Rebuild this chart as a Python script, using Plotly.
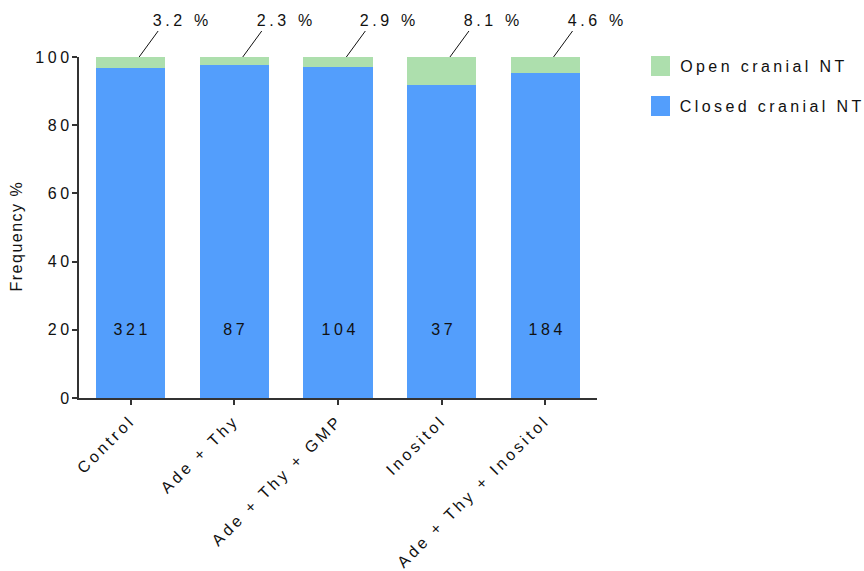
import plotly.graph_objects as go

categories = ["Control", "Ade + Thy", "Ade + Thy + GMP", "Inositol", "Ade + Thy + Inositol"]
open_pct = [3.2, 2.3, 2.9, 8.1, 4.6]
closed_pct = [100 - v for v in open_pct]
open_labels = ["3.2 %", "2.3 %", "2.9 %", "8.1 %", "4.6 %"]
n_embryos = ["321", "87", "104", "37", "184"]
y_ticks = [0, 20, 40, 60, 80, 100]

BLUE = "#539EFC"
GREEN = "#ADDFAD"
TXT = "#111111"
FONT = "Liberation Sans, Arial, sans-serif"
FS = 16
LS = 3.6        # general letter spacing (px), applied after render
LS_LEG = 3.4    # legend letter spacing
LS_X = 3.3      # x tick label letter spacing

W, H = 864, 571
L, R, T, B = 79, 267, 57, 173
PW, PH = W - L - R, H - T - B

def px_x(px):
    return (px - L) / PW

def px_y(py):
    return (H - B - py) / PH

def left_shift(txt, ls):
    return (len(txt) - 1) * ls / 2

fig = go.Figure()
fig.add_trace(go.Bar(x=categories, y=closed_pct, marker=dict(color=BLUE, line=dict(width=0)),
                     name="Closed cranial NT", showlegend=False))
fig.add_trace(go.Bar(x=categories, y=open_pct, marker=dict(color=GREEN, line=dict(width=0)),
                     name="Open cranial NT", showlegend=False))

annotations = []
for i, (lab, n) in enumerate(zip(open_labels, n_embryos)):
    annotations.append(dict(x=i + 0.04, y=100, xref="x", yref="y", text=lab, showarrow=True,
                            arrowhead=0, arrowwidth=1, arrowcolor=TXT, ax=19, ay=-26,
                            xanchor="left", yanchor="bottom", xshift=left_shift(lab, LS) - 3,
                            font=dict(family=FONT, size=FS, color=TXT)))
    annotations.append(dict(x=i, y=20, xref="x", yref="y", text=n, showarrow=False,
                            xanchor="center", yanchor="middle", font=dict(family=FONT, size=FS, color=TXT)))

# y axis title
annotations.append(dict(x=px_x(16), y=px_y(237), xref="paper", yref="paper", text="Frequency %",
                        textangle=-90, showarrow=False, xanchor="center", yanchor="middle",
                        font=dict(family=FONT, size=FS, color=TXT)))

# custom legend
shapes = []
legend_items = [("Open cranial NT", GREEN, 56), ("Closed cranial NT", BLUE, 96)]
legend_names = [it[0] for it in legend_items]
for name, col, top in legend_items:
    shapes.append(dict(type="rect", xref="paper", yref="paper", x0=px_x(651), x1=px_x(670),
                       y0=px_y(top + 20), y1=px_y(top), fillcolor=col, line=dict(width=0)))
    annotations.append(dict(x=px_x(678), y=px_y(top + 10), xref="paper", yref="paper", text=name,
                            showarrow=False, xanchor="left", yanchor="middle",
                            xshift=left_shift(name, LS_LEG),
                            font=dict(family=FONT, size=FS, color=TXT)))

fig.update_layout(
    width=W, height=H, barmode="stack", bargap=0.333,
    margin=dict(l=L, r=R, t=T, b=B, pad=0),
    plot_bgcolor="white", paper_bgcolor="white",
    font=dict(family=FONT, size=FS, color=TXT),
    annotations=annotations, shapes=shapes, showlegend=False,
)
fig.update_xaxes(showline=True, linecolor="#333333", linewidth=1.5, ticks="outside", ticklen=5,
                 tickcolor="#333333", tickwidth=1.5, tickangle=-45, showgrid=False,
                 tickfont=dict(family=FONT, size=FS, color=TXT), range=[-0.5, 4.5])
fig.update_yaxes(range=[0, 100], tickvals=y_ticks, showline=True, linecolor="#333333", linewidth=1.5,
                 ticks="outside", ticklen=5, tickcolor="#333333", tickwidth=1.5, showgrid=False,
                 zeroline=False, tickfont=dict(family=FONT, size=FS, color=TXT))

post = """
var LS = %s, LSLEG = %s, LSX = %s;
var legNames = %s;
document.querySelectorAll('.main-svg text').forEach(function(t){
  var txt = t.textContent;
  var ls = LS, fix = true;
  if (txt === 'Frequency %%') ls = 1.5;
  else if (legNames.indexOf(txt) >= 0) ls = LSLEG;
  else if (t.closest('.xtick')) { ls = LSX; fix = false; }
  t.style.letterSpacing = ls + 'px';
  if (!fix) return;
  var a = t.getAttribute('text-anchor') || window.getComputedStyle(t).textAnchor;
  var sh = a === 'end' ? ls : (a === 'middle' ? ls / 2 : 0);
  if (!sh) return;
  var nodes = [t].concat(Array.prototype.slice.call(t.querySelectorAll('tspan')));
  nodes.forEach(function(n){
    if (n.hasAttribute('x')) n.setAttribute('x', parseFloat(n.getAttribute('x')) + sh);
  });
});
""" % (LS, LS_LEG, LS_X, str(legend_names).replace("'", '"'))
fig.write_html("out.html", post_script=post)
